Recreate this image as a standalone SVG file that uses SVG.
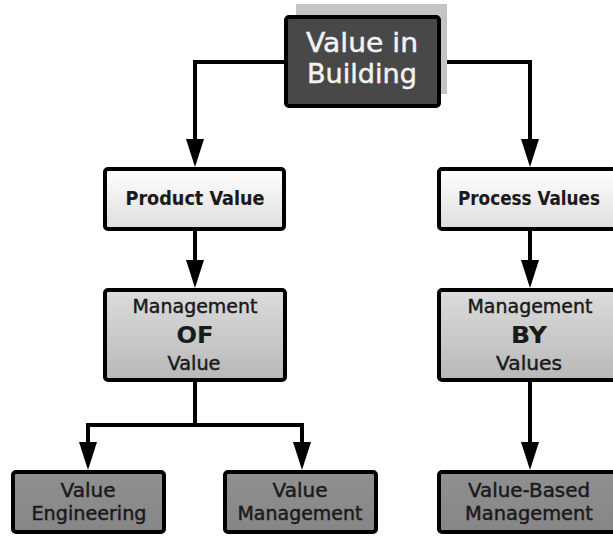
<svg xmlns="http://www.w3.org/2000/svg" width="613" height="536" viewBox="0 0 613 536">
<defs>
<style>
.box{stroke:#000;stroke-width:4}
.t{font-family:"DejaVu Sans","Verdana",sans-serif;text-anchor:middle;fill:#1a1a1a;stroke:#1a1a1a;stroke-width:0.45}
.w{fill:#f2f2f2;stroke:#f2f2f2;stroke-width:0.5}
.b{stroke-width:0.1}
.conn{fill:none;stroke:#000;stroke-width:4}
</style>
<linearGradient id="gLight" x1="0" y1="0" x2="0" y2="1"><stop offset="0" stop-color="#ffffff"/><stop offset="1" stop-color="#dedede"/></linearGradient>
<linearGradient id="gMid" x1="0" y1="0" x2="0" y2="1"><stop offset="0" stop-color="#dcdcdc"/><stop offset="1" stop-color="#b8b8b8"/></linearGradient>
<linearGradient id="gDark" x1="0" y1="0" x2="0" y2="1"><stop offset="0" stop-color="#909090"/><stop offset="1" stop-color="#868686"/></linearGradient>
<marker id="arr" viewBox="0 0 28 18" refX="18" refY="9" markerWidth="28" markerHeight="18" markerUnits="userSpaceOnUse" orient="auto"><path d="M0,0 L28,9 L0,18 z" fill="#000"/></marker>
</defs>
<rect width="613" height="536" fill="#fff"/>
<g id="connectors">
<path class="conn" d="M284,62 H195 V157" marker-end="url(#arr)"/>
<path class="conn" d="M441,62 H530 V157" marker-end="url(#arr)"/>
<path class="conn" d="M195,231 V278" marker-end="url(#arr)"/>
<path class="conn" d="M530,231 V278" marker-end="url(#arr)"/>
<path class="conn" d="M195,382 V425"/>
<path class="conn" d="M86,425 H304"/>
<path class="conn" d="M88,425 V460" marker-end="url(#arr)"/>
<path class="conn" d="M302,425 V460" marker-end="url(#arr)"/>
<path class="conn" d="M530,382 V460" marker-end="url(#arr)"/>
</g>
<g id="value-in-building">
<rect x="296" y="4" width="151" height="90" fill="#c4c4c4"/>
<rect class="box" x="286" y="17" width="153" height="89" rx="3" fill="#484848"/>
<text class="t w" x="362" y="52" font-size="27" textLength="112" lengthAdjust="spacingAndGlyphs">Value in</text>
<text class="t w" x="362" y="83" font-size="27" textLength="110" lengthAdjust="spacingAndGlyphs">Building</text>
</g>
<g id="product-value">
<rect class="box" x="105" y="169" width="179" height="60" rx="3" fill="url(#gLight)"/>
<text class="t b" x="195" y="205" font-size="19" font-weight="bold" textLength="139" lengthAdjust="spacingAndGlyphs">Product Value</text>
</g>
<g id="process-values">
<rect class="box" x="439" y="169" width="200" height="60" rx="3" fill="url(#gLight)"/>
<text class="t b" x="529" y="205" font-size="19" font-weight="bold" textLength="142" lengthAdjust="spacingAndGlyphs">Process Values</text>
</g>
<g id="management-of-value">
<rect class="box" x="105" y="290" width="180" height="90" rx="3" fill="url(#gMid)"/>
<text class="t" x="195" y="313" font-size="19" textLength="125" lengthAdjust="spacingAndGlyphs">Management</text>
<text class="t b" x="195" y="343" font-size="23" font-weight="bold" textLength="37" lengthAdjust="spacingAndGlyphs">OF</text>
<text class="t" x="194" y="370" font-size="19" textLength="53" lengthAdjust="spacingAndGlyphs">Value</text>
</g>
<g id="management-by-values">
<rect class="box" x="439" y="290" width="200" height="90" rx="3" fill="url(#gMid)"/>
<text class="t" x="530" y="313" font-size="19" textLength="125" lengthAdjust="spacingAndGlyphs">Management</text>
<text class="t b" x="529" y="343" font-size="23" font-weight="bold" textLength="36" lengthAdjust="spacingAndGlyphs">BY</text>
<text class="t" x="529" y="370" font-size="19" textLength="66" lengthAdjust="spacingAndGlyphs">Values</text>
</g>
<g id="value-engineering">
<rect class="box" x="13" y="472" width="151" height="60" rx="3" fill="url(#gDark)"/>
<text class="t" x="88" y="497" font-size="19" textLength="55" lengthAdjust="spacingAndGlyphs">Value</text>
<text class="t" x="89" y="520" font-size="19" textLength="115" lengthAdjust="spacingAndGlyphs">Engineering</text>
</g>
<g id="value-management">
<rect class="box" x="225" y="472" width="151" height="60" rx="3" fill="url(#gDark)"/>
<text class="t" x="300" y="497" font-size="19" textLength="55" lengthAdjust="spacingAndGlyphs">Value</text>
<text class="t" x="300" y="520" font-size="19" textLength="125" lengthAdjust="spacingAndGlyphs">Management</text>
</g>
<g id="value-based-management">
<rect class="box" x="439" y="472" width="200" height="60" rx="3" fill="url(#gDark)"/>
<text class="t" x="529" y="497" font-size="19" textLength="122" lengthAdjust="spacingAndGlyphs">Value-Based</text>
<text class="t" x="529" y="520" font-size="19" textLength="128" lengthAdjust="spacingAndGlyphs">Management</text>
</g>
</svg>
